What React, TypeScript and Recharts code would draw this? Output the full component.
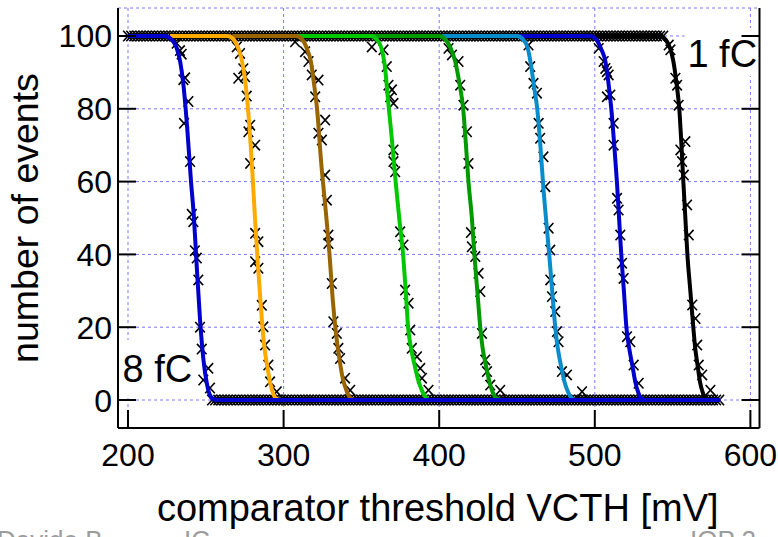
import { ComposedChart, Line, Scatter, XAxis, YAxis, CartesianGrid, ReferenceArea } from "recharts";

type Pt = [number, number];

const FONT = "'Liberation Sans', Arial, sans-serif";

const xTicks = [200, 300, 400, 500, 600];
const yTicks = [0, 20, 40, 60, 80, 100];

// scan points sitting on the plateaus (100 events / 0 events)
const plateauTopX = [
  200, 202, 204, 206, 208, 210, 212, 214, 216, 218, 220, 222, 224, 226, 228, 230, 232, 234, 236, 238,
  240, 242, 244, 246, 248, 250, 252, 254, 256, 258, 260, 262, 264, 266, 268, 270, 272, 274, 276, 278,
  280, 282, 284, 286, 288, 290, 292, 294, 296, 298, 300, 302, 304, 306, 308, 310, 312, 314, 316, 318,
  320, 322, 324, 326, 328, 330, 332, 334, 336, 338, 340, 342, 344, 346, 348, 350, 352, 354, 356, 358,
  360, 362, 364, 366, 368, 370, 372, 374, 376, 378, 380, 382, 384, 386, 388, 390, 392, 394, 396, 398,
  400, 402, 404, 406, 408, 410, 412, 414, 416, 418, 420, 422, 424, 426, 428, 430, 432, 434, 436, 438,
  440, 442, 444, 446, 448, 450, 452, 454, 456, 458, 460, 462, 464, 466, 468, 470, 472, 474, 476, 478,
  480, 482, 484, 486, 488, 490, 492, 494, 496, 498, 500, 502, 504, 506, 508, 510, 512, 514, 516, 518,
  520, 522, 524, 526, 528, 530, 532, 534, 536, 538, 540, 542, 544,
];
const plateauBottomX = [
  254, 256, 258, 260, 262, 264, 266, 268, 270, 272, 274, 276, 278, 280, 282, 284, 286, 288, 290, 292,
  294, 296, 298, 300, 302, 304, 306, 308, 310, 312, 314, 316, 318, 320, 322, 324, 326, 328, 330, 332,
  334, 336, 338, 340, 342, 344, 346, 348, 350, 352, 354, 356, 358, 360, 362, 364, 366, 368, 370, 372,
  374, 376, 378, 380, 382, 384, 386, 388, 390, 392, 394, 396, 398, 400, 402, 404, 406, 408, 410, 412,
  414, 416, 418, 420, 422, 424, 426, 428, 430, 432, 434, 436, 438, 440, 442, 444, 446, 448, 450, 452,
  454, 456, 458, 460, 462, 464, 466, 468, 470, 472, 474, 476, 478, 480, 482, 484, 486, 488, 490, 492,
  494, 496, 498, 500, 502, 504, 506, 508, 510, 512, 514, 516, 518, 520, 522, 524, 526, 528, 530, 532,
  534, 536, 538, 540, 542, 544, 546, 548, 550, 552, 554, 556, 558, 560, 562, 564, 566, 568, 570, 572,
  574, 576, 578, 580,
];

// measured points on the slopes
const pts8: Pt[] = [[231.3, 98], [233.4, 96], [234.5, 95], [235.6, 88], [236, 76], [236.7, 88.5], [238.8, 82], [239.9, 65.5], [241, 51], [242, 49], [243, 41], [244.2, 39], [245.2, 33], [246.3, 20], [247.4, 14], [248.4, 5.5], [251.6, 8.7], [252.7, 3.3]];
const pts7: Pt[] = [[269.9, 97], [270.9, 88.4], [272, 95.2], [274.1, 91], [275.2, 88.8], [276.3, 83.5], [277.4, 73.7], [278.5, 75.5], [278.5, 65], [281.7, 70], [281.7, 45.8], [281.7, 38], [283.8, 43.5], [283.8, 36.2], [286, 26], [287, 20.1], [288.1, 15.1], [290.2, 9.6], [291.3, 5], [295.6, 2.3]];
const pts6: Pt[] = [[307.4, 98.4], [313.8, 95.7], [316, 93], [318.1, 89.3], [320.3, 83.3], [322.4, 87.9], [322.4, 73.3], [324.6, 71.4], [326.7, 76.9], [326.7, 61.8], [327.8, 54.9], [328.8, 45.3], [328.8, 43], [331, 32], [332, 21.5], [334.2, 18.3], [335.2, 14.2], [336.3, 11.4], [339.5, 6], [342.8, 2.7]];
const pts5: Pt[] = [[356.7, 97], [364.2, 96.2], [366.3, 91.6], [367.4, 86.5], [368.5, 83.3], [369.6, 85.2], [370.6, 81.5], [370.6, 68.7], [370.6, 65.5], [371.7, 62.7], [374.9, 46.2], [377, 42.6], [378.1, 30.2], [380.3, 26.6], [381.4, 19.2], [382.4, 14.2], [385.7, 11.9], [387.8, 8.7], [388.9, 6], [393.1, 2.7]];
const pts4: Pt[] = [[406, 96.6], [408.2, 94.8], [412.4, 93], [413.5, 86.5], [415.6, 81], [417.8, 73.7], [418.8, 65], [420.4, 46], [421, 42.1], [423.2, 39.4], [425.3, 34.8], [426.4, 29.8], [427.5, 18.3], [429.6, 11], [430.7, 7.8], [432.8, 4.1], [439.2, 2.7]];
const pts3: Pt[] = [[457.4, 97.5], [458.5, 91.6], [460.6, 87], [462.8, 84.3], [463.9, 76], [464.9, 71.9], [467, 66.8], [468.2, 58.6], [470.3, 47.2], [471.4, 41.2], [471.4, 33], [472.5, 28.4], [474.6, 24.3], [475.7, 18.8], [476.7, 16], [478.9, 7.8], [482.1, 6.9], [491.8, 2.3]];
const pts2: Pt[] = [[502.5, 96.6], [505.7, 93], [506.8, 91.1], [507.8, 90.2], [507.8, 83.3], [508.9, 89.3], [510, 83.8], [512.1, 76], [512.1, 70], [514.3, 55.4], [515.3, 52.2], [516.4, 45.3], [517.5, 37.6], [518.5, 33.4], [520.7, 17.4], [522.8, 16], [525, 9.6], [528.2, 4.6]];
const pts1: Pt[] = [[547.5, 97.5], [548.6, 96.2], [551.8, 88.4], [552.9, 86.5], [553.9, 81], [555, 68.7], [556.1, 65.5], [557.2, 61.8], [558.2, 71], [559.3, 53.6], [560.4, 45.3], [562.6, 26.1], [564.7, 22.4], [565.8, 15.1], [566.8, 9.6], [569, 6.9], [574.3, 2.7]];

// fitted s-curves
const fit8: Pt[] = [[200, 100], [224, 100], [228, 99], [231, 97], [233.5, 93], [235.5, 87], [238, 75], [240.5, 60], [242.4, 50], [244, 38], [246.3, 22], [248.5, 11], [250.5, 5], [252.5, 1.5], [255, 0.2], [258, 0], [581, 0]];
const fit7: Pt[] = [[227, 100], [264, 100], [268, 99], [271, 96.5], [273.3, 93], [275.5, 87], [277.5, 78], [280, 62], [281.6, 50], [283.2, 39], [285.5, 25], [287.5, 15], [289.6, 9], [291.5, 4.5], [293.5, 1.5], [296, 0.2], [299, 0], [581, 0]];
const fit6: Pt[] = [[267, 100], [308, 100], [312, 99], [315, 96.5], [317.5, 93], [319.5, 87], [321.5, 80], [324, 66], [327.5, 50], [329.5, 40], [331.5, 28], [333.5, 19], [336, 11], [338, 6], [340.5, 2.5], [343, 0.5], [346, 0], [581, 0]];
const fit5: Pt[] = [[306, 100], [356, 100], [360, 99], [363, 96.5], [365, 92], [367.2, 82], [369.5, 72], [372, 60], [374.3, 50], [376.8, 40], [378.5, 30], [380, 20], [382, 14], [384, 10], [386.5, 5.5], [389, 2.5], [391.5, 0.7], [394, 0], [581, 0]];
const fit4: Pt[] = [[350, 100], [400, 100], [404, 99], [407, 97], [410.3, 93], [413, 87], [415.4, 80], [417.2, 70], [418.8, 60], [421, 50], [422.6, 40], [424.5, 30], [426.4, 20], [428, 14], [429.8, 10], [432, 5.5], [434.5, 2], [437, 0.4], [440, 0], [581, 0]];
const fit3: Pt[] = [[402, 100], [450, 100], [454, 99], [457, 96.5], [459, 92], [461, 86], [463, 80], [465, 70], [467, 58], [468.6, 50], [470.7, 40], [472.6, 30], [474.6, 20], [476.3, 14], [478, 10], [480.5, 5], [483, 2], [485.5, 0.4], [488, 0], [581, 0]];
const fit2: Pt[] = [[450, 100], [497, 100], [501, 99], [504, 96.5], [506.8, 93], [508.8, 87], [510.6, 80], [512.5, 70], [514.2, 60], [515.6, 50], [517, 40], [518.7, 30], [520.3, 20], [522.2, 14], [524.1, 9.6], [526, 5], [528, 2], [530, 0.4], [532.5, 0], [581, 0]];
const fit1: Pt[] = [[500, 100], [542, 100], [545.5, 99], [548.5, 96.5], [550.5, 93], [552.5, 87], [554.3, 80], [555.7, 70], [556.9, 60], [558.2, 50], [559.5, 40], [561.4, 30], [563.3, 20], [564.6, 14], [565.9, 10], [567.6, 5], [569.4, 2], [571.2, 0.4], [573.5, 0], [581, 0]];

// drawn 1 fC first, 8 fC last
const curves = [
  { id: "1fC", color: "#000000", fit: fit1, pts: pts1 },
  { id: "2fC", color: "#0000cc", fit: fit2, pts: pts2 },
  { id: "3fC", color: "#0a8ccc", fit: fit3, pts: pts3 },
  { id: "4fC", color: "#009a00", fit: fit4, pts: pts4 },
  { id: "5fC", color: "#00c800", fit: fit5, pts: pts5 },
  { id: "6fC", color: "#9a6400", fit: fit6, pts: pts6 },
  { id: "7fC", color: "#ffaa00", fit: fit7, pts: pts7 },
  { id: "8fC", color: "#0000cc", fit: fit8, pts: pts8 },
];

// slide footer, cut off at the bottom of the picture
const footerLeft = "Davide B";
const footerMid = "IC";
const footerRight = "IOP 2";

const toRows = (a: Pt[]) => a.map(([x, y]) => ({ x, y }));
const topRows = plateauTopX.map(x => ({ x, y: 100 }));
const bottomRows = plateauBottomX.map(x => ({ x, y: 0 }));

const X_DOMAIN: [number, number] = [193.57, 605.85];
const Y_DOMAIN: [number, number] = [-7.69, 107.69];
const TICK = 18;

const XMark = (p: any) => {
  const { cx, cy } = p;
  if (cx == null || cy == null) return <g />;
  return (
    <path
      d={`M${cx - 4.8},${cy - 5.2}L${cx + 4.8},${cy + 5.2}M${cx - 4.8},${cy + 5.2}L${cx + 4.8},${cy - 5.2}`}
      stroke="#000" strokeWidth={1.6} fill="none"
    />
  );
};

const BottomTick = (p: any) => (
  <g>
    <line x1={p.x} x2={p.x} y1={p.y} y2={p.y - TICK} stroke="#000" strokeWidth={2} />
    <text x={p.x} y={p.y + 38} textAnchor="middle" fontSize={32} fontFamily={FONT} fill="#000">
      {p.payload.value}
    </text>
  </g>
);
const TopTick = (p: any) => (
  <line x1={p.x} x2={p.x} y1={p.y} y2={p.y + TICK} stroke="#000" strokeWidth={2} />
);
const LeftTick = (p: any) => (
  <g>
    <line x1={p.x} x2={p.x + TICK} y1={p.y} y2={p.y} stroke="#000" strokeWidth={2} />
    <text x={p.x - 6} y={p.y + 11.5} textAnchor="end" fontSize={32} fontFamily={FONT} fill="#000">
      {p.payload.value}
    </text>
  </g>
);
const RightTick = (p: any) => (
  <line x1={p.x} x2={p.x - TICK} y1={p.y} y2={p.y} stroke="#000" strokeWidth={2} />
);

const frame = { stroke: "#000", strokeWidth: 2 };

export default function App() {
  return (
    <div style={{ position: "fixed", left: 0, top: 0, width: 778, height: 537, background: "#fff", overflow: "hidden" }}>
      <ComposedChart width={778} height={537} margin={{ top: 8, right: 0, bottom: 0, left: 0 }}>
        <CartesianGrid xAxisId="b" yAxisId="l" stroke="#7878ff" strokeDasharray="3 3" strokeWidth={1} />
        <XAxis
          xAxisId="b" type="number" dataKey="x" domain={X_DOMAIN} allowDataOverflow ticks={xTicks}
          interval={0} height={109} tickSize={0} tickMargin={0} tickLine={false} axisLine={frame}
          tick={<BottomTick />}
          label={{
            content: (lp: any) => (
              <g>
                <text x={lp.viewBox.x + lp.viewBox.width / 2 - 1} y={lp.viewBox.y + 93} textAnchor="middle"
                  fontSize={38} fontFamily={FONT} fill="#000">comparator threshold VCTH [mV]</text>
                <text x={-3} y={549} fontSize={26} fontFamily={FONT} fill="#9c9c9c">{footerLeft}</text>
                <text x={184} y={549} fontSize={26} fontFamily={FONT} fill="#9c9c9c">{footerMid}</text>
                <text x={690} y={549} fontSize={26} fontFamily={FONT} fill="#9c9c9c">{footerRight}</text>
              </g>
            ),
          }}
        />
        <XAxis
          xAxisId="t" orientation="top" type="number" dataKey="x" domain={X_DOMAIN} allowDataOverflow
          ticks={xTicks} interval={0} height={0} tickSize={0} tickMargin={0} tickLine={false}
          axisLine={frame} tick={<TopTick />}
        />
        <YAxis
          yAxisId="l" type="number" dataKey="y" domain={Y_DOMAIN} allowDataOverflow ticks={yTicks}
          interval={0} width={118} tickSize={0} tickMargin={0} tickLine={false} axisLine={frame}
          tick={<LeftTick />}
          label={{
            content: (lp: any) => {
              const cx = lp.viewBox.x + 38;
              const cy = lp.viewBox.y + lp.viewBox.height / 2;
              return (
                <text x={cx} y={cy} transform={`rotate(-90 ${cx} ${cy})`} textAnchor="middle"
                  fontSize={37.5} fontFamily={FONT} fill="#000">number of events</text>
              );
            },
          }}
        />
        <YAxis
          yAxisId="r" orientation="right" type="number" dataKey="y" domain={Y_DOMAIN} allowDataOverflow
          ticks={yTicks} interval={0} width={18.5} tickSize={0} tickMargin={0} tickLine={false}
          axisLine={frame} tick={<RightTick />}
        />

        <ReferenceArea
          xAxisId="b" yAxisId="l" x1={194.2} x2={244} y1={0.8} y2={16.5} fill="#fff" fillOpacity={1} stroke="none"
          label={{
            content: (lp: any) => (
              <text x={lp.viewBox.x + 3.5} y={lp.viewBox.y + 42} fontSize={38} fontFamily={FONT} fill="#000">8 fC</text>
            ),
          }}
        />
        <ReferenceArea
          xAxisId="b" yAxisId="l" x1={557.6} x2={604.5} y1={89} y2={102.2} fill="#fff" fillOpacity={1} stroke="none"
          label={{
            content: (lp: any) => (
              <text x={lp.viewBox.x + 3} y={lp.viewBox.y + 39} fontSize={38} fontFamily={FONT} fill="#000">1 fC</text>
            ),
          }}
        />

        <Scatter xAxisId="b" yAxisId="l" zIndex={350} data={topRows} shape={XMark} isAnimationActive={false} />
        <Scatter xAxisId="b" yAxisId="l" zIndex={350} data={bottomRows} shape={XMark} isAnimationActive={false} />
        {curves.map(c => (
          <Scatter key={`p${c.id}`} xAxisId="b" yAxisId="l" zIndex={350} data={toRows(c.pts)} shape={XMark} isAnimationActive={false} />
        ))}
        {curves.map(c => (
          <Line
            key={`f${c.id}`} xAxisId="b" yAxisId="l" zIndex={700} data={toRows(c.fit)} dataKey="y" type="monotone"
            stroke={c.color} strokeWidth={4} dot={false} activeDot={false} isAnimationActive={false}
          />
        ))}
      </ComposedChart>
    </div>
  );
}
